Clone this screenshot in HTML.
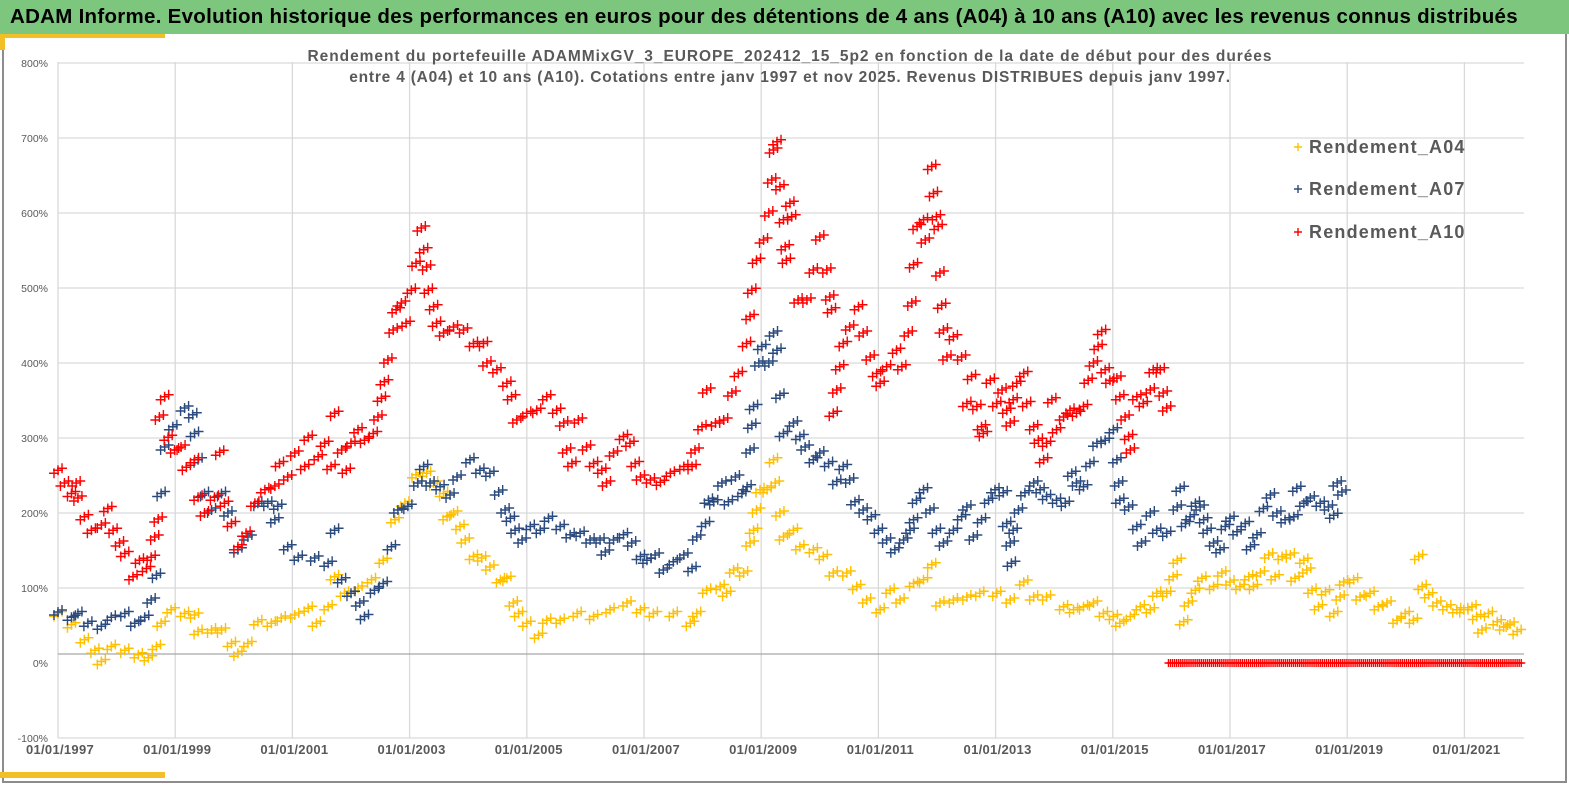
<!DOCTYPE html>
<html><head><meta charset="utf-8">
<style>
html,body{margin:0;padding:0;background:#fff;}
body{width:1569px;height:785px;position:relative;overflow:hidden;font-family:"Liberation Sans",sans-serif;}
#titlebar{position:absolute;left:0;top:0;width:1569px;height:34px;background:#7dc67e;}
#titlebar span{position:absolute;left:10px;top:5px;font-size:20.5px;font-weight:bold;color:#000;white-space:nowrap;letter-spacing:0.28px;}
#frame{position:absolute;left:2px;top:34px;width:1561px;height:747px;border:2px solid #8c8c8c;border-top:none;}
.yb{position:absolute;background:#f2bf26;}
svg{position:absolute;left:0;top:0;}
</style></head>
<body>
<div id="titlebar"><span>ADAM Informe. Evolution historique des performances en euros pour des détentions de 4 ans (A04) à 10 ans (A10) avec les revenus connus distribués</span></div>
<div id="frame"></div>
<div class="yb" style="left:0;top:34px;width:165px;height:4px"></div>
<div class="yb" style="left:0;top:34px;width:5px;height:16px"></div>
<div class="yb" style="left:0;top:772px;width:165px;height:6px"></div>
<svg id="chart" width="1569" height="785"></svg>
<script>
const yTicks=[800,700,600,500,400,300,200,100,0,-100];
const xTickYears=[1997,1999,2001,2003,2005,2007,2009,2011,2013,2015,2017,2019,2021];
const seriesNames=["Rendement_A04","Rendement_A07","Rendement_A10"];
const seriesColors=["#ffc000","#2b4a7e","#ff0000"];

const a04Dates=[1997.0,1997.23,1997.45,1997.63,1997.74,1997.91,1998.14,1998.37,1998.54,1998.68,1998.76,1998.93,1999.16,1999.33,1999.39,1999.62,1999.79,1999.96,2000.07,2000.24,2000.41,2000.64,2000.81,2001.04,2001.27,2001.41,2001.61,2001.72,2001.89,2002.12,2002.35,2002.55,2002.75,2002.92,2003.11,2003.29,2003.41,2003.58,2003.64,2003.75,2003.86,2003.95,2004.09,2004.23,2004.37,2004.55,2004.66,2004.77,2004.86,2005.0,2005.2,2005.34,2005.57,2005.86,2006.14,2006.42,2006.71,2006.94,2007.16,2007.5,2007.79,2007.9,2008.07,2008.3,2008.41,2008.53,2008.7,2008.81,2008.87,2008.92,2008.98,2009.1,2009.21,2009.24,2009.32,2009.38,2009.55,2009.66,2009.89,2010.06,2010.23,2010.46,2010.63,2010.8,2011.03,2011.2,2011.37,2011.6,2011.77,2011.91,2012.05,2012.28,2012.51,2012.73,2013.02,2013.25,2013.48,2013.65,2013.87,2014.16,2014.33,2014.5,2014.67,2014.84,2015.01,2015.12,2015.3,2015.47,2015.64,2015.75,2015.92,2016.03,2016.1,2016.21,2016.29,2016.41,2016.52,2016.72,2016.86,2017.0,2017.17,2017.32,2017.4,2017.52,2017.66,2017.77,2017.89,2018.03,2018.11,2018.26,2018.31,2018.4,2018.51,2018.63,2018.77,2018.88,2018.94,2019.11,2019.22,2019.39,2019.53,2019.68,2019.85,2019.99,2020.13,2020.22,2020.28,2020.39,2020.53,2020.7,2020.87,2020.99,2021.13,2021.21,2021.3,2021.41,2021.56,2021.67,2021.78,2021.9];
const a04Values=[66,51,31,17,2,22,17,11,7,22,53,71,66,64,42,44,44,26,13,26,55,53,60,64,73,53,75,115,93,100,111,137,191,213,251,253,240,226,195,200,182,164,142,140,128,111,113,80,66,53,37,57,57,66,62,71,80,71,66,66,53,66,97,102,93,124,120,160,177,204,231,231,271,240,200,168,177,155,151,142,120,120,102,84,71,97,84,106,111,131,80,84,88,93,93,84,108,88,88,75,71,75,80,66,62,53,62,75,71,93,93,115,137,55,80,97,113,102,120,108,102,115,102,120,144,115,142,144,113,137,124,97,75,95,66,88,108,111,88,93,75,80,57,66,57,142,102,91,80,75,71,71,75,62,44,66,55,48,52,42];

const a07Dates=[1997.0,1997.23,1997.34,1997.51,1997.74,1997.91,1998.14,1998.31,1998.48,1998.59,1998.68,1998.76,1998.82,1998.96,1999.16,1999.3,1999.33,1999.39,1999.5,1999.62,1999.79,1999.9,2000.07,2000.24,2000.41,2000.58,2000.7,2000.75,2000.92,2001.1,2001.38,2001.61,2001.72,2001.84,2002.0,2002.15,2002.23,2002.4,2002.55,2002.69,2002.8,2002.97,2003.14,2003.24,2003.35,2003.52,2003.69,2003.81,2004.03,2004.2,2004.37,2004.52,2004.63,2004.72,2004.8,2004.92,2005.06,2005.23,2005.37,2005.57,2005.74,2005.91,2006.08,2006.25,2006.34,2006.48,2006.65,2006.79,2006.94,2007.05,2007.19,2007.33,2007.5,2007.68,2007.82,2007.9,2008.05,2008.1,2008.19,2008.33,2008.44,2008.56,2008.67,2008.76,2008.81,2008.84,2008.87,2008.96,2009.01,2009.13,2009.21,2009.27,2009.32,2009.38,2009.55,2009.66,2009.75,2009.89,2010.0,2010.15,2010.29,2010.4,2010.51,2010.6,2010.74,2010.88,2011.0,2011.14,2011.28,2011.43,2011.54,2011.6,2011.65,2011.77,2011.88,2011.99,2012.11,2012.28,2012.42,2012.51,2012.62,2012.76,2012.88,2012.99,2013.13,2013.19,2013.25,2013.27,2013.3,2013.39,2013.5,2013.65,2013.76,2013.87,2014.04,2014.19,2014.3,2014.38,2014.5,2014.61,2014.73,2014.87,2015.01,2015.07,2015.1,2015.12,2015.27,2015.41,2015.49,2015.64,2015.75,2015.92,2016.1,2016.15,2016.24,2016.32,2016.41,2016.49,2016.55,2016.61,2016.72,2016.83,2016.92,2017.0,2017.12,2017.26,2017.35,2017.46,2017.57,2017.69,2017.8,2017.94,2018.09,2018.14,2018.26,2018.37,2018.54,2018.68,2018.77,2018.83,2018.91];
const a07Values=[68,61,66,53,49,61,66,53,61,84,117,226,288,315,340,331,306,271,226,204,226,200,151,168,213,213,191,209,155,141,140,133,177,111,93,80,62,97,106,155,204,209,240,262,240,235,224,248,271,257,253,228,204,193,177,164,182,177,193,182,171,173,164,164,148,164,171,160,142,137,144,124,135,144,126,168,186,217,215,240,215,248,226,235,284,317,342,400,422,400,440,417,357,306,320,302,288,271,280,266,242,262,244,215,204,195,177,164,151,164,177,191,217,231,204,177,160,177,195,208,168,191,217,231,227,186,160,133,177,204,227,240,231,222,217,213,253,240,235,266,293,297,311,271,240,217,208,182,160,200,177,173,208,233,186,195,213,208,191,177,160,151,182,193,175,186,155,171,206,224,200,191,195,233,213,220,213,208,197,240,228];

const a10Dates=[1997.0,1997.11,1997.23,1997.31,1997.34,1997.45,1997.57,1997.74,1997.85,1997.94,1998.05,1998.14,1998.28,1998.39,1998.51,1998.59,1998.65,1998.71,1998.73,1998.82,1998.88,1998.99,1999.1,1999.19,1999.33,1999.39,1999.5,1999.67,1999.76,1999.84,1999.96,2000.07,2000.21,2000.36,2000.53,2000.7,2000.78,2000.92,2001.04,2001.21,2001.27,2001.44,2001.55,2001.66,2001.72,2001.84,2001.92,2002.0,2002.12,2002.23,2002.38,2002.46,2002.52,2002.57,2002.63,2002.72,2002.77,2002.86,2002.94,2003.03,2003.11,2003.2,2003.24,2003.29,2003.32,2003.41,2003.46,2003.58,2003.75,2003.92,2004.09,2004.26,2004.32,2004.49,2004.66,2004.74,2004.83,2005.0,2005.17,2005.34,2005.51,2005.63,2005.68,2005.77,2005.88,2006.02,2006.14,2006.28,2006.36,2006.48,2006.65,2006.76,2006.85,2006.94,2007.11,2007.28,2007.45,2007.68,2007.82,2007.87,2007.99,2008.07,2008.22,2008.36,2008.5,2008.61,2008.75,2008.81,2008.84,2008.92,2009.04,2009.13,2009.18,2009.21,2009.27,2009.32,2009.38,2009.41,2009.43,2009.49,2009.52,2009.63,2009.78,2009.89,2010.0,2010.12,2010.17,2010.2,2010.23,2010.29,2010.34,2010.4,2010.51,2010.66,2010.74,2010.86,2010.97,2011.03,2011.14,2011.31,2011.4,2011.51,2011.57,2011.6,2011.66,2011.77,2011.8,2011.91,2011.94,2011.99,2012.02,2012.05,2012.08,2012.11,2012.17,2012.28,2012.42,2012.51,2012.59,2012.68,2012.76,2012.79,2012.91,2013.02,2013.11,2013.19,2013.25,2013.3,2013.36,2013.48,2013.53,2013.65,2013.73,2013.82,2013.87,2013.96,2014.04,2014.16,2014.27,2014.38,2014.5,2014.58,2014.67,2014.75,2014.81,2014.87,2014.95,2015.07,2015.12,2015.21,2015.27,2015.3,2015.41,2015.52,2015.64,2015.69,2015.81,2015.86,2015.92];
const a10Values=[257,240,226,240,220,195,177,184,206,177,160,146,115,137,126,141,168,192,328,355,301,284,288,261,271,221,200,221,281,213,186,155,173,213,231,236,266,248,280,262,301,275,293,262,333,284,257,293,311,297,306,328,353,375,404,444,471,480,453,497,533,580,551,528,497,475,453,440,448,444,426,426,400,391,373,355,324,333,337,355,337,320,284,266,324,288,266,257,240,280,302,293,266,248,244,241,253,262,262,284,315,364,320,324,360,386,426,462,497,537,564,600,644,684,695,635,591,555,537,613,595,484,484,524,568,524,488,471,333,364,395,426,448,475,440,408,386,373,395,417,395,440,480,531,582,591,564,662,626,595,582,520,477,444,408,435,408,346,382,342,315,306,377,346,364,337,320,351,373,386,346,315,297,271,293,351,311,328,337,333,342,377,400,422,442,391,377,380,355,328,302,284,355,346,364,391,391,360,340];

// A10 values not yet known after 2015.9 are plotted at 0 (weekly dates)
const a10ZeroStart=2015.95, a10ZeroEnd=2022.0, a10ZeroStep=0.035;

const NS="http://www.w3.org/2000/svg";
const svg=document.getElementById('chart');
const PL=58, PR=1524, PT=62, PB=738;
function xs(yr){return PL+(yr-1997)*58.6;}
function ys(v){return 663-0.75*v;}
function mk(tag,attrs,parent){const e=document.createElementNS(NS,tag);for(const k in attrs)e.setAttribute(k,attrs[k]);(parent||svg).appendChild(e);return e;}

const grid=mk('g',{});


yTicks.forEach(t=>{
  if(t===0||t===-100)return;
  const l=mk('line',{x1:PL,x2:PR,y1:ys(t),y2:ys(t),stroke:'#d9d9d9','stroke-width':1.3},grid);
  
  
});
xTickYears.forEach(yr=>{
  const l=mk('line',{x1:xs(yr),x2:xs(yr),y1:PT,y2:PB,stroke:'#d9d9d9','stroke-width':1.3},grid);
  
  
});
const baseLine=mk('line',{x1:PL,x2:PR,y1:654,y2:654,stroke:'#a6a6a6','stroke-width':1.3});


const botLine=mk('line',{x1:PL,x2:PR,y1:PB,y2:PB,stroke:'#d9d9d9','stroke-width':1.3});



yTicks.forEach(t=>{
  const tx=mk('text',{x:48,y:ys(t)+4,'text-anchor':'end','font-size':10.5,fill:'#595959','font-family':'Liberation Sans, sans-serif'});
  tx.textContent=t+'%';
  
  
});
xTickYears.forEach(yr=>{
  const tx=mk('text',{x:xs(yr)+2,y:754,'text-anchor':'middle','font-size':13,'font-weight':'bold',fill:'#595959','font-family':'Liberation Sans, sans-serif','letter-spacing':'0.3'});
  tx.textContent='01/01/'+yr;
  
  
});

const sub1=mk('text',{x:790,y:61,'text-anchor':'middle','font-size':15.5,'font-weight':'bold',fill:'#595959','font-family':'Liberation Sans, sans-serif','letter-spacing':'0.95'});
sub1.textContent='Rendement du portefeuille ADAMMixGV_3_EUROPE_202412_15_5p2  en fonction de la date de début pour des durées';


const sub2=mk('text',{x:790,y:82,'text-anchor':'middle','font-size':15.5,'font-weight':'bold',fill:'#595959','font-family':'Liberation Sans, sans-serif','letter-spacing':'0.8'});
sub2.textContent='entre 4 (A04) et 10 ans (A10). Cotations entre janv 1997 et nov 2025. Revenus DISTRIBUES depuis janv 1997.';



function plus(g,x,y,c,s){
  return mk('path',{d:`M${x-s} ${y}H${x+s}M${x} ${y-s}V${y+s}`,stroke:c,'stroke-width':1.4,fill:'none'},g);
}
function cluster(g,x,y,c){
  plus(g,x,y,c,5);plus(g,x-4,y+3,c,5);plus(g,x+4,y-2,c,5);
}
function drawSeries(dates,vals,color,name){
  const g=mk('g',{});
  
  
  for(let i=0;i<dates.length;i++){cluster(g,xs(dates[i]),ys(vals[i]),color);}
  return g;
}
const gA04=drawSeries(a04Dates,a04Values,seriesColors[0],'series-a04');
const gA07=drawSeries(a07Dates,a07Values,seriesColors[1],'series-a07');
const gA10=drawSeries(a10Dates,a10Values,seriesColors[2],'series-a10');
const gZero=mk('g',{});


for(let d=a10ZeroStart; d<=a10ZeroEnd; d+=a10ZeroStep){plus(gZero,xs(d),ys(0),seriesColors[2],4);}

const legY=[147,189,232];
seriesNames.forEach((n,i)=>{
  const g=mk('g',{});
  
  
  plus(g,1298,legY[i],seriesColors[i],4);
  const t=mk('text',{x:1309,y:legY[i]+6,'font-size':18,'font-weight':'bold',fill:'#595959','letter-spacing':'1.2','font-family':'Liberation Sans, sans-serif'},g);
  t.textContent=n;
});
</script>
</body></html>
